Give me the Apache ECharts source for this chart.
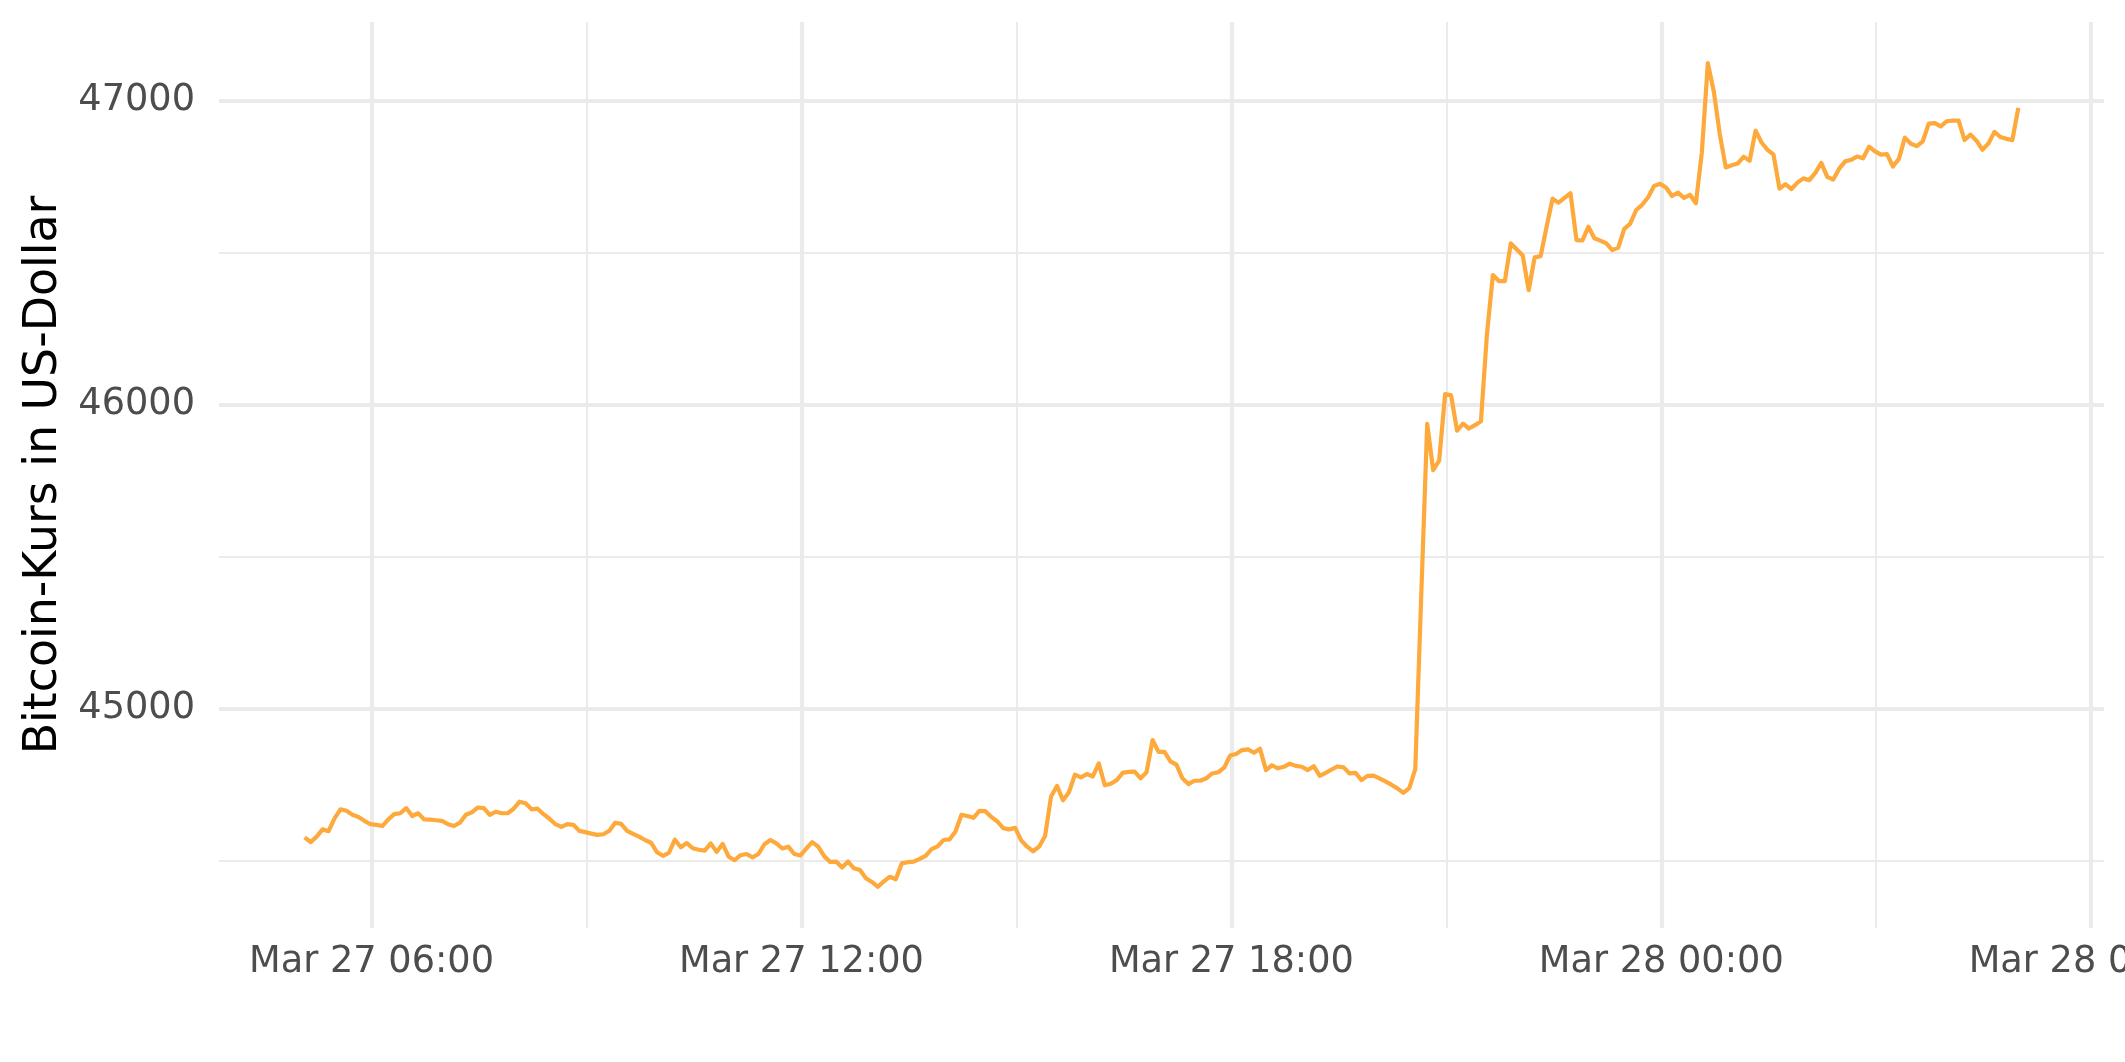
<!DOCTYPE html>
<html>
<head>
<meta charset="utf-8">
<script src="https://cdn.jsdelivr.net/npm/echarts@6/dist/echarts.min.js"></script>
<style>
  html, body { margin: 0; padding: 0; background: #ffffff; }
  #chart { width: 2125px; height: 1062px; }
</style>
</head>
<body>
<div id="chart"></div>
<script>
// ---- data ----
// 5-minute Bitcoin prices, first sample at 05:04 UTC on Mar 27
const startTime = '2022-03-27T05:04:00Z';
const stepMinutes = 5;
const prices = [
  44576, 44560, 44578, 44602, 44596, 44638, 44668, 44663, 44650, 44643,
  44630, 44619, 44617, 44613, 44635, 44652, 44655, 44672, 44646, 44655,
  44635, 44634, 44632, 44630, 44619, 44613, 44624, 44650, 44658, 44674,
  44672, 44650, 44660, 44655, 44655, 44670, 44693, 44688, 44668, 44670,
  44652, 44637, 44619, 44610, 44619, 44617, 44597, 44593, 44588, 44584,
  44586, 44597, 44624, 44620, 44597, 44587, 44578, 44567, 44558, 44527,
  44515, 44525, 44568, 44543, 44557, 44540, 44535, 44532, 44556, 44528,
  44554, 44512, 44501, 44517, 44521, 44510, 44521, 44553, 44567, 44556,
  44539, 44545, 44521, 44516, 44539, 44560, 44545, 44514, 44495, 44496,
  44477, 44496, 44474, 44468, 44441, 44429, 44413, 44431, 44446, 44438,
  44490, 44494, 44496, 44505, 44515, 44537, 44546, 44567, 44569, 44595,
  44650, 44646, 44640, 44663, 44662, 44643, 44628, 44606, 44602, 44607,
  44566, 44545, 44530, 44545, 44580, 44710, 44745, 44698, 44724, 44782,
  44773, 44784, 44776, 44819, 44747, 44752, 44764, 44788, 44791, 44792,
  44770, 44790, 44896, 44857, 44857, 44826, 44815, 44770, 44751, 44762,
  44762, 44770, 44786, 44790, 44805, 44845, 44850, 44863, 44865, 44854,
  44867, 44797, 44813, 44803, 44808, 44818, 44811, 44808, 44797, 44810,
  44778, 44788, 44799, 44809, 44806, 44786, 44788, 44764, 44778, 44779,
  44770, 44760, 44749, 44737, 44722, 44738, 44800, 45370, 45936, 45784,
  45815, 46034, 46030, 45914, 45937, 45921, 45932, 45945, 46230, 46426,
  46406, 46406, 46530, 46510, 46490, 46376, 46484, 46488, 46585, 46677,
  46664, 46680, 46695, 46541, 46540, 46585, 46547, 46539, 46530, 46508,
  46516, 46578, 46595, 46640, 46657, 46682, 46719, 46726, 46714, 46686,
  46697, 46680, 46690, 46662, 46830, 47123, 47030, 46890, 46780, 46787,
  46793, 46815, 46802, 46901, 46862, 46838, 46822, 46710, 46725, 46709,
  46730, 46744, 46738, 46762, 46795, 46749, 46740, 46776, 46800, 46805,
  46816, 46810, 46848, 46833, 46822, 46824, 46783, 46808, 46878, 46858,
  46850, 46866, 46924, 46926, 46915, 46932, 46934, 46934, 46870, 46888,
  46868, 46838, 46859, 46897, 46880, 46874, 46870, 46976
];

// axis breaks and limits
const xMajorTicks = ['2022-03-27T06:00:00Z', '2022-03-27T12:00:00Z', '2022-03-27T18:00:00Z', '2022-03-28T00:00:00Z', '2022-03-28T06:00:00Z'];
const xMinorTicks = ['2022-03-27T09:00:00Z', '2022-03-27T15:00:00Z', '2022-03-27T21:00:00Z', '2022-03-28T03:00:00Z'];
const xLimits = ['2022-03-27T03:52:15Z', '2022-03-28T06:10:45Z'];
const yMajorTicks = [45000, 46000, 47000];
const yMinorTicks = [44500, 45500, 46500];
const yLimits = [44277.5, 47258.5];
const yTitle = 'Bitcoin-Kurs in US-Dollar';

// ---- build ----
const t0 = Date.parse(startTime);
const seriesData = prices.map((p, i) => [t0 + i * stepMinutes * 60000, p]);
const ms = s => Date.parse(s);
const MONTHS = ['Jan','Feb','Mar','Apr','May','Jun','Jul','Aug','Sep','Oct','Nov','Dec'];
const pad = n => (n < 10 ? '0' : '') + n;
const fmtTime = v => {
  const d = new Date(v);
  return MONTHS[d.getUTCMonth()] + ' ' + pad(d.getUTCDate()) + ' ' + pad(d.getUTCHours()) + ':' + pad(d.getUTCMinutes());
};

const FONT = 'DejaVu Sans';
const GRID_COLOR = '#EBEBEB';

const chart = echarts.init(document.getElementById('chart'), null, { renderer: 'canvas' });
chart.setOption({
  animation: false,
  backgroundColor: '#ffffff',
  grid: { left: 219, right: 21, top: 22, bottom: 134, containLabel: false, outerBoundsMode: 'none' },
  xAxis: [
    {
      type: 'value',
      min: ms(xLimits[0]), max: ms(xLimits[1]),
      axisLine: { show: false },
      axisTick: { show: false, customValues: xMajorTicks.map(ms) },
      axisLabel: {
        customValues: xMajorTicks.map(ms),
        formatter: fmtTime,
        color: '#4D4D4D', fontFamily: FONT, fontSize: 36.7, margin: 16
      },
      splitLine: { show: true, lineStyle: { color: GRID_COLOR, width: 4.2 } },
      z: 2
    },
    {
      type: 'value',
      min: ms(xLimits[0]), max: ms(xLimits[1]),
      axisLine: { show: false },
      axisTick: { show: false, customValues: xMinorTicks.map(ms) },
      axisLabel: { show: false, customValues: xMinorTicks.map(ms) },
      splitLine: { show: true, lineStyle: { color: GRID_COLOR, width: 2.1 } },
      z: 1
    }
  ],
  yAxis: [
    {
      type: 'value',
      min: yLimits[0], max: yLimits[1],
      name: yTitle,
      nameLocation: 'middle',
      nameRotate: 90,
      nameGap: 142,
      nameTextStyle: { color: '#000000', fontFamily: FONT, fontSize: 45.8 },
      axisLine: { show: false },
      axisTick: { show: false, customValues: yMajorTicks },
      axisLabel: {
        customValues: yMajorTicks,
        formatter: v => String(Math.round(v)),
        color: '#4D4D4D', fontFamily: FONT, fontSize: 36.7, margin: 24
      },
      splitLine: { show: true, lineStyle: { color: GRID_COLOR, width: 4.2 } },
      z: 2
    },
    {
      type: 'value',
      min: yLimits[0], max: yLimits[1],
      axisLine: { show: false },
      axisTick: { show: false, customValues: yMinorTicks },
      axisLabel: { show: false, customValues: yMinorTicks },
      splitLine: { show: true, lineStyle: { color: GRID_COLOR, width: 2.1 } },
      z: 1
    }
  ],
  series: [
    {
      type: 'line',
      xAxisIndex: 0,
      yAxisIndex: 0,
      data: seriesData,
      showSymbol: false,
      symbol: 'none',
      smooth: false,
      lineStyle: { color: '#FDA93B', width: 4.2, join: 'round', cap: 'butt' },
      z: 5
    }
  ]
});
</script>
</body>
</html>
